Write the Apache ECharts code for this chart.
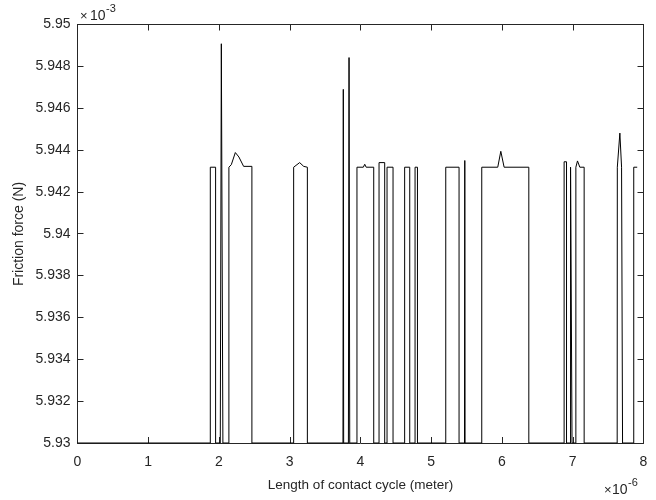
<!DOCTYPE html>
<html>
<head>
<meta charset="utf-8">
<script src="https://cdn.jsdelivr.net/npm/echarts@6/dist/echarts.min.js"></script>
<style>
html,body{margin:0;padding:0;background:#fff;}
#c{width:656px;height:500px;}
</style>
</head>
<body>
<div id="c"></div>
<script>
// x values in units of 1e-6 m, y values in units of 1e-3 N
var xs = [0, 1.877, 1.877, 1.952, 1.952, 2.018, 2.033, 2.055,
  2.140, 2.140, 2.174, 2.231, 2.281, 2.348, 2.465, 2.465,
  3.055, 3.055, 3.079, 3.140, 3.197, 3.249, 3.249,
  3.752, 3.757, 3.762, 3.829, 3.838, 3.848,
  3.950, 3.950, 4.040, 4.060, 4.080, 4.187, 4.187,
  4.262, 4.262, 4.342, 4.342, 4.375, 4.375, 4.460, 4.460,
  4.624, 4.624, 4.696, 4.696, 4.771, 4.771, 4.805, 4.805,
  5.205, 5.205, 5.393, 5.393, 5.470, 5.474, 5.478,
  5.714, 5.714, 5.940, 5.983, 6.030, 6.379, 6.379,
  6.878, 6.878, 6.912, 6.912, 6.969, 6.969, 6.990, 6.990,
  7.044, 7.044, 7.067, 7.100, 7.128, 7.161, 7.161,
  7.628, 7.630, 7.666, 7.690, 7.704,
  7.862, 7.862, 7.911];
var ys = [5.93, 5.93, 5.94318, 5.94318, 5.93, 5.93, 5.94908, 5.93,
  5.93, 5.94318, 5.9433, 5.94388, 5.94367, 5.94322, 5.94322, 5.93,
  5.93, 5.94318, 5.94318, 5.9434, 5.94322, 5.94318, 5.93,
  5.93, 5.9469, 5.93, 5.93, 5.94842, 5.93,
  5.93, 5.94318, 5.94318, 5.94332, 5.94318, 5.94318, 5.93,
  5.93, 5.9434, 5.9434, 5.93, 5.93, 5.94318, 5.94318, 5.93,
  5.93, 5.94318, 5.94318, 5.93, 5.93, 5.94318, 5.94318, 5.93,
  5.93, 5.94318, 5.94318, 5.93, 5.93, 5.9435, 5.93,
  5.93, 5.94318, 5.94318, 5.94394, 5.94318, 5.94318, 5.93,
  5.93, 5.94344, 5.94344, 5.93, 5.93, 5.94318, 5.94318, 5.93,
  5.93, 5.94318, 5.94348, 5.94318, 5.94310, 5.94318, 5.93,
  5.93, 5.94318, 5.94481, 5.94318, 5.93,
  5.93, 5.94318, 5.94318];
var xTicks = {min: 0, max: 8, step: 1};
var yTicks = {min: 5.93, max: 5.95, step: 0.002};
var xTitle = 'Length of contact cycle (meter)';
var yTitle = 'Friction force (N)';

var data = xs.map(function (x, i) { return [x, ys[i]]; });
var ink = '#262626';
var font = 'Liberation Sans, Arial, Helvetica, sans-serif';

function axisBase(pos, showLabel, lim, isY) {
  return {
    type: 'value', position: pos, min: lim.min, max: lim.max, interval: lim.step,
    axisLine: {show: true, onZero: false, lineStyle: {color: ink, width: 1}},
    axisTick: {show: true, inside: true, length: 6, lineStyle: {color: ink, width: 1}},
    splitLine: {show: false},
    axisLabel: {
      show: showLabel, color: ink, fontSize: 14, fontFamily: font,
      margin: isY ? 7 : 12,
      formatter: function (v) { return String(+v.toFixed(3)); }
    }
  };
}

var chart = echarts.init(document.getElementById('c'), null, {renderer: 'canvas'});
chart.setOption({
  animation: false,
  backgroundColor: '#fff',
  grid: {left: 77.5, right: 12.5, top: 24.5, bottom: 57, containLabel: false},
  xAxis: [axisBase('bottom', true, xTicks, false), axisBase('top', false, xTicks, false)],
  yAxis: [axisBase('left', true, yTicks, true), axisBase('right', false, yTicks, true)],
  series: [{
    type: 'line', data: data, xAxisIndex: 0, yAxisIndex: 0,
    showSymbol: false, symbol: 'none', clip: true,
    lineStyle: {color: '#000', width: 1}
  }],
  graphic: [
    {type: 'text', x: 360.5, y: 478, style: {text: xTitle, fill: ink, font: '13.5px ' + font, textAlign: 'center'}},
    {type: 'text', rotation: Math.PI / 2, x: 12, y: 234, style: {text: yTitle, fill: ink, font: '14px ' + font, textAlign: 'center'}},
    {type: 'text', x: 80, y: 10, style: {text: '\u00d7', fill: ink, font: '13px ' + font}},
    {type: 'text', x: 90, y: 9, style: {text: '10', fill: ink, font: '14px ' + font}},
    {type: 'text', x: 106, y: 3, style: {text: '-3', fill: ink, font: '11px ' + font}},
    {type: 'text', x: 604, y: 484, style: {text: '\u00d7', fill: ink, font: '13px ' + font}},
    {type: 'text', x: 612, y: 483, style: {text: '10', fill: ink, font: '14px ' + font}},
    {type: 'text', x: 628, y: 477, style: {text: '-6', fill: ink, font: '11px ' + font}}
  ]
});
</script>
</body>
</html>
